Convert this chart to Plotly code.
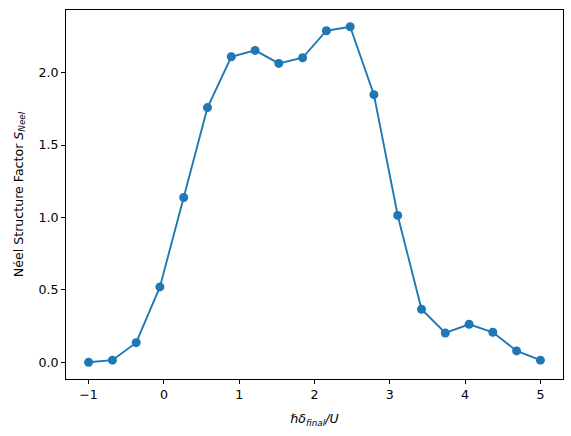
import plotly.graph_objects as go

delta = [-1.0, -0.684, -0.368, -0.053, 0.263, 0.579, 0.895, 1.211, 1.526, 1.842,
         2.158, 2.474, 2.789, 3.105, 3.421, 3.737, 4.053, 4.368, 4.684, 5.0]
s_neel = [0.0, 0.014, 0.135, 0.52, 1.138, 1.759, 2.11, 2.154, 2.064, 2.103,
          2.29, 2.317, 1.848, 1.014, 0.366, 0.202, 0.262, 0.207, 0.078, 0.014]

xticks = [-1, 0, 1, 2, 3, 4, 5]
yticks = [0.0, 0.5, 1.0, 1.5, 2.0]

fig = go.Figure()
fig.add_trace(go.Scatter(
    x=delta, y=s_neel, mode="lines+markers",
    line=dict(color="#1f77b4", width=1.9),
    marker=dict(color="#1f77b4", size=9),
    showlegend=False,
))

axis_common = dict(
    showline=True, linecolor="black", linewidth=1, mirror=True,
    ticks="outside", ticklen=4, tickwidth=1, tickcolor="black",
    showgrid=False, zeroline=False, automargin=False,
    tickfont=dict(family="DejaVu Sans", size=12.6, color="black"),
)

fig.update_layout(
    width=571, height=436,
    margin=dict(l=66, r=8, t=10, b=57),
    paper_bgcolor="white", plot_bgcolor="white",
    font=dict(family="DejaVu Sans", size=12.6, color="black"),
    xaxis=dict(range=[-1.3, 5.3], tickvals=xticks, **axis_common,
               title=dict(text="<i>ℏδ<sub>final</sub>/U</i>", standoff=13,
                          font=dict(family="DejaVu Sans", size=12.6))),
    yaxis=dict(range=[-0.116, 2.433], tickvals=yticks, tickformat=".1f", **axis_common,
               title=dict(text="Néel Structure Factor <i>S<sub>Neel</sub></i>", standoff=12,
                          font=dict(family="DejaVu Sans", size=12.6))),
)

fig.write_html("out.html", config={"displayModeBar": False},
               post_script="document.body.style.margin='0';")
